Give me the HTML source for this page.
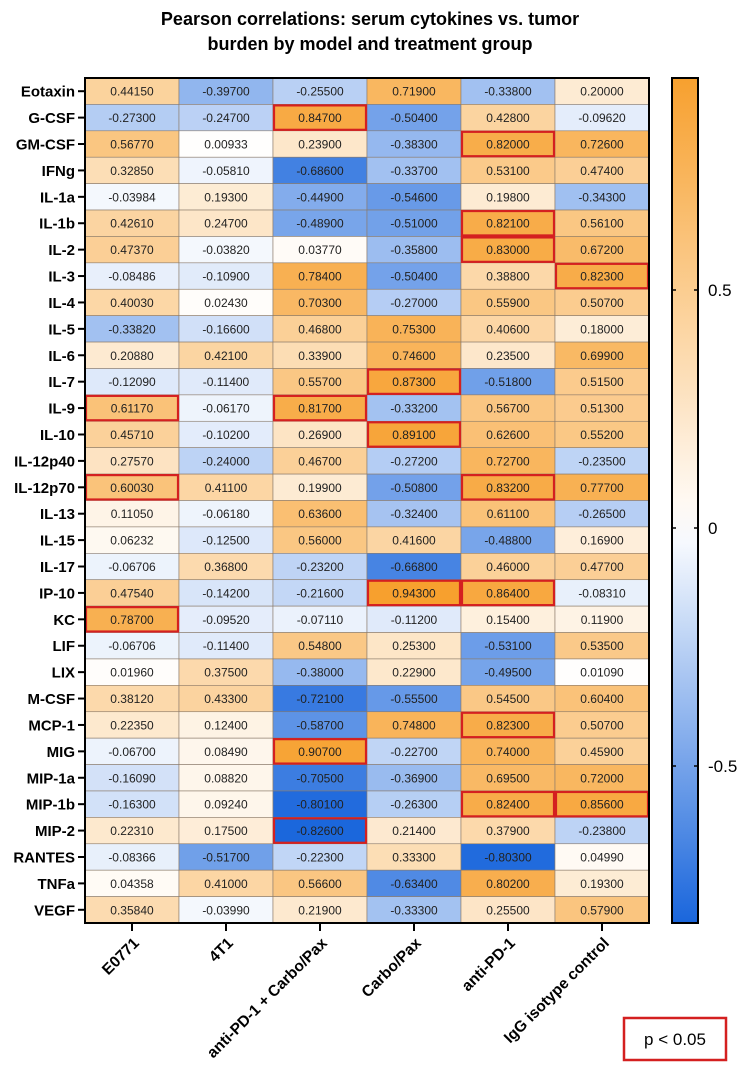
<!DOCTYPE html>
<html><head><meta charset="utf-8"><style>
body{margin:0;background:#fff;}
svg{display:block;font-family:"Liberation Sans",Arial,sans-serif;}
</style></head><body>
<svg id="chart" width="744" height="1069" viewBox="0 0 744 1069" xmlns="http://www.w3.org/2000/svg">
<text x="370" y="25" text-anchor="middle" font-size="18" font-weight="bold">Pearson correlations: serum cytokines vs. tumor</text>
<text x="370" y="50" text-anchor="middle" font-size="18" font-weight="bold">burden by model and treatment group</text>
<g id="cells"></g><g id="rowlabels"></g><g id="collabels"></g><g id="cbar"></g>
<rect x="624" y="1018" width="102" height="42" fill="#fff" stroke="#d42020" stroke-width="2.5"/>
<text x="675" y="1045" text-anchor="middle" font-size="17">p &lt; 0.05</text>
</svg>
<script>
const rowsLabels=["Eotaxin","G-CSF","GM-CSF","IFNg","IL-1a","IL-1b","IL-2","IL-3","IL-4","IL-5","IL-6","IL-7","IL-9","IL-10","IL-12p40","IL-12p70","IL-13","IL-15","IL-17","IP-10","KC","LIF","LIX","M-CSF","MCP-1","MIG","MIP-1a","MIP-1b","MIP-2","RANTES","TNFa","VEGF"];
const colLabels=["E0771","4T1","anti-PD-1 + Carbo/Pax","Carbo/Pax","anti-PD-1","IgG isotype control"];
const valE0771=["0.44150","-0.27300","0.56770","0.32850","-0.03984","0.42610","0.47370","-0.08486","0.40030","-0.33820","0.20880","-0.12090","0.61170","0.45710","0.27570","0.60030","0.11050","0.06232","-0.06706","0.47540","0.78700","-0.06706","0.01960","0.38120","0.22350","-0.06700","-0.16090","-0.16300","0.22310","-0.08366","0.04358","0.35840"];
const val4T1=["-0.39700","-0.24700","0.00933","-0.05810","0.19300","0.24700","-0.03820","-0.10900","0.02430","-0.16600","0.42100","-0.11400","-0.06170","-0.10200","-0.24000","0.41100","-0.06180","-0.12500","0.36800","-0.14200","-0.09520","-0.11400","0.37500","0.43300","0.12400","0.08490","0.08820","0.09240","0.17500","-0.51700","0.41000","-0.03990"];
const valCombo=["-0.25500","0.84700","0.23900","-0.68600","-0.44900","-0.48900","0.03770","0.78400","0.70300","0.46800","0.33900","0.55700","0.81700","0.26900","0.46700","0.19900","0.63600","0.56000","-0.23200","-0.21600","-0.07110","0.54800","-0.38000","-0.72100","-0.58700","0.90700","-0.70500","-0.80100","-0.82600","-0.22300","0.56600","0.21900"];
const valCarbo=["0.71900","-0.50400","-0.38300","-0.33700","-0.54600","-0.51000","-0.35800","-0.50400","-0.27000","0.75300","0.74600","0.87300","-0.33200","0.89100","-0.27200","-0.50800","-0.32400","0.41600","-0.66800","0.94300","-0.11200","0.25300","0.22900","-0.55500","0.74800","-0.22700","-0.36900","-0.26300","0.21400","0.33300","-0.63400","-0.33300"];
const valPD1=["-0.33800","0.42800","0.82000","0.53100","0.19800","0.82100","0.83000","0.38800","0.55900","0.40600","0.23500","-0.51800","0.56700","0.62600","0.72700","0.83200","0.61100","-0.48800","0.46000","0.86400","0.15400","-0.53100","-0.49500","0.54500","0.82300","0.74000","0.69500","0.82400","0.37900","-0.80300","0.80200","0.25500"];
const valIgG=["0.20000","-0.09620","0.72600","0.47400","-0.34300","0.56100","0.67200","0.82300","0.50700","0.18000","0.69900","0.51500","0.51300","0.55200","-0.23500","0.77700","-0.26500","0.16900","0.47700","-0.08310","0.11900","0.53500","0.01090","0.60400","0.50700","0.45900","0.72000","0.85600","-0.23800","0.04990","0.19300","0.57900"];
const sigE0771=[12,15,20];
const sig4T1=[];
const sigCombo=[1,12,25,28];
const sigCarbo=[11,13,19];
const sigPD1=[2,5,6,15,19,24,27];
const sigIgG=[7,27];
const cbTicks=[0.5,0,-0.5];
const cbTickLabels=["0.5","0","-0.5"];
const VMAX=0.945, VMIN=-0.83;
const X0=85,X1=649,Y0=78,Y1=923;
const cols=[valE0771,val4T1,valCombo,valCarbo,valPD1,valIgG];
const sigs=[sigE0771,sig4T1,sigCombo,sigCarbo,sigPD1,sigIgG];
const cw=(X1-X0)/colLabels.length, rh=(Y1-Y0)/rowsLabels.length;
const xs=i=>X0+i*cw, ys=j=>Y0+j*rh;
const cbY=v=>528-v*476;
function color(v){
  let a,t;
  if(v>=0){a=[247,160,46];t=Math.min(v/VMAX,1);}else{a=[26,102,220];t=Math.min(-v/-VMIN,1);}
  const c=a.map(x=>Math.round(255+(x-255)*t));
  return `rgb(${c[0]},${c[1]},${c[2]})`;
}
const NS="http://www.w3.org/2000/svg";
function el(tag,attrs,parent){const e=document.createElementNS(NS,tag);for(const k in attrs)e.setAttribute(k,attrs[k]);parent.appendChild(e);return e;}
const cells=document.getElementById('cells');
cols.forEach((col,i)=>{col.forEach((s,j)=>{
  const v=parseFloat(s);
  const r=el('rect',{x:xs(i),y:ys(j),width:cw,height:rh,fill:color(v),stroke:'#8a7a6a','stroke-width':0.6},cells);
  
  
  const t=el('text',{x:xs(i)+cw/2,y:ys(j)+rh/2+4.5,'text-anchor':'middle','font-size':12,fill:'#222'},cells);
  
  
  t.textContent=s;
});});
sigs.forEach((sg,i)=>sg.forEach(j=>{
  const r=el('rect',{x:xs(i)+1,y:ys(j)+1,width:cw-2,height:rh-2,fill:'none',stroke:'#d42020','stroke-width':2.2},cells);
  
  
}));
const fr=el('rect',{x:X0,y:Y0,width:X1-X0,height:Y1-Y0,fill:'none',stroke:'#000','stroke-width':2},cells);


const rl=document.getElementById('rowlabels');
rowsLabels.forEach((s,j)=>{
  const y=ys(j)+rh/2;
  const tk=el('line',{x1:78,x2:X0,y1:y,y2:y,stroke:'#000','stroke-width':2},rl);
  
  
  const t=el('text',{x:75,y:y+5.5,'text-anchor':'end','font-size':15,'font-weight':'bold'},rl);
  
  
  t.textContent=s;
});
const cl=document.getElementById('collabels');
colLabels.forEach((s,i)=>{
  const x=xs(i)+cw/2;
  const tk=el('line',{x1:x,x2:x,y1:Y1,y2:Y1+8,stroke:'#000','stroke-width':2},cl);
  
  
  const t=el('text',{x:x+8,y:Y1+21,'text-anchor':'end','font-size':15.5,'font-weight':'bold',transform:`rotate(-45 ${x+8} ${Y1+21})`},cl);
  
  
  t.textContent=s;
});
const cb=document.getElementById('cbar');
const defs=el('defs',{},cb);
const g=el('linearGradient',{id:'cbg',x1:0,y1:0,x2:0,y2:1},defs);
for(let k=0;k<=20;k++){const v=VMAX+(VMIN-VMAX)*k/20;el('stop',{offset:k/20,'stop-color':color(v)},g);}
const cbr=el('rect',{x:672,y:Y0,width:26,height:Y1-Y0,fill:'url(#cbg)',stroke:'#000','stroke-width':2},cb);


cbTicks.forEach((v,k)=>{
  const y=cbY(v);
  el('line',{x1:672,x2:676,y1:y,y2:y,stroke:'#000','stroke-width':1.5},cb);
  el('line',{x1:694,x2:698,y1:y,y2:y,stroke:'#000','stroke-width':1.5},cb);
  const t=el('text',{x:708,y:y+6,'font-size':17},cb);
  
  
  t.textContent=cbTickLabels[k];
});
</script>
</body></html>
